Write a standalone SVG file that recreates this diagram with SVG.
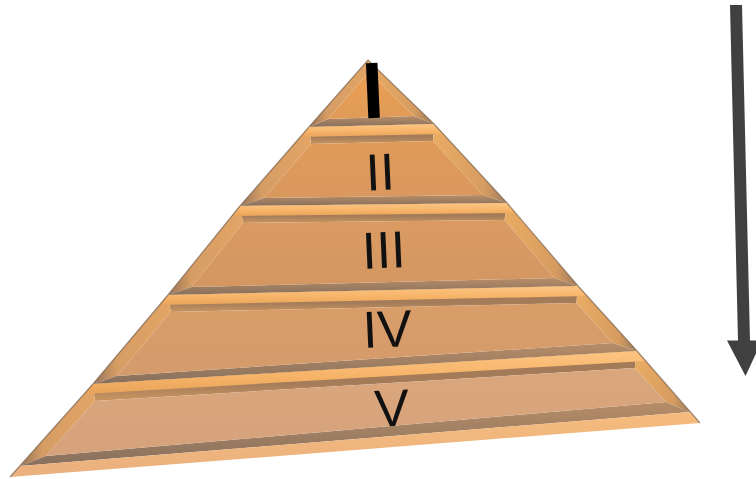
<svg xmlns="http://www.w3.org/2000/svg" width="756" height="479" viewBox="0 0 756 479">
<defs>
<linearGradient id="gLight" x1="0" y1="0" x2="0" y2="1"><stop offset="0" stop-color="#fdc583"/><stop offset="0.6" stop-color="#f6b367"/><stop offset="1" stop-color="#e8a35a"/></linearGradient>
<linearGradient id="gBase" x1="0" y1="0" x2="0" y2="1"><stop offset="0" stop-color="#f6bb7c"/><stop offset="1" stop-color="#eab07e"/></linearGradient>
<linearGradient id="gTop" x1="0" y1="0" x2="0" y2="1"><stop offset="0" stop-color="#a27a58"/><stop offset="0.65" stop-color="#a47c5a"/><stop offset="1" stop-color="#c99660"/></linearGradient>
<linearGradient id="gBottom" x1="0" y1="0" x2="0" y2="1"><stop offset="0" stop-color="#b78d68"/><stop offset="1" stop-color="#87705d"/></linearGradient>
<linearGradient id="gLeft" x1="0" y1="0" x2="1" y2="0"><stop offset="0" stop-color="#94735a"/><stop offset="0.3" stop-color="#d59c64"/><stop offset="1" stop-color="#e3a566"/></linearGradient>
<linearGradient id="gRight" x1="0" y1="0" x2="1" y2="0"><stop offset="0" stop-color="#eaac64"/><stop offset="0.7" stop-color="#d69c60"/><stop offset="1" stop-color="#9c7a5c"/></linearGradient>
<linearGradient id="gFace1" x1="0" y1="0" x2="0" y2="1"><stop offset="0" stop-color="#ea9f52"/><stop offset="1" stop-color="#e09b58"/></linearGradient>
<linearGradient id="gFace2" x1="0" y1="0" x2="0" y2="1"><stop offset="0" stop-color="#e09b5a"/><stop offset="1" stop-color="#d9985e"/></linearGradient>
<linearGradient id="gFace3" x1="0" y1="0" x2="0" y2="1"><stop offset="0" stop-color="#da9a62"/><stop offset="1" stop-color="#d49762"/></linearGradient>
<linearGradient id="gFace4" x1="0" y1="0" x2="0" y2="1"><stop offset="0" stop-color="#d99d68"/><stop offset="1" stop-color="#d49b6c"/></linearGradient>
<linearGradient id="gFace5" x1="0" y1="0" x2="0" y2="1"><stop offset="0" stop-color="#daa67c"/><stop offset="1" stop-color="#d5a27c"/></linearGradient>
</defs>
<style>
.top{fill:url(#gTop)}
.bot{fill:url(#gBottom)}
.lft{fill:url(#gLeft)}
.rgt{fill:url(#gRight)}
.lit{fill:url(#gLight)}
.edge{fill:none;stroke:#7f6550;stroke-width:1.2;stroke-opacity:0.75}
.lbl{font-family:"Liberation Sans",Arial,sans-serif;font-size:52px;fill:#111;text-anchor:middle}
.arrow{fill:#404040}
</style>
<g id="band1">
<polygon class="bot" points="309,127 434,124 414,116 328,119"/>
<polygon class="lft" points="368,60 369,72 328,119 309,127"/>
<polygon class="rgt" points="368,60 434,124 414,116 369,72"/>
<polygon fill="url(#gFace1)" points="369,72 414,116 328,119"/>
<polyline class="edge" points="309,127 368,60 434,124"/>
<text x="374" y="118" font-family="Liberation Sans, Arial, sans-serif" font-weight="bold" font-size="80" fill="#000" text-anchor="middle" transform="rotate(-2.5 374 118)">I</text>
</g>
<g id="band2">
<polygon class="top" points="309,127 434,124 433,141 311,144"/>
<polygon class="lft" points="309,127 311,144 264,198 240,206"/>
<polygon class="rgt" points="434,124 507,203 483,195 433,141"/>
<polygon class="bot" points="240,206 264,198 483,195 507,203"/>
<polygon fill="url(#gFace2)" points="311,144 433,141 483,195 264,198"/>
<polygon class="lit" points="309,127 434,124 443.2,134 300.3,137"/>
<polyline class="edge" points="309,127 240,206"/>
<polyline class="edge" points="434,124 507,203"/>
<text class="lbl" x="381" y="190" transform="rotate(-2.5 381 190)">II</text>
</g>
<g id="band3">
<polygon class="top" points="240,206 507,203 504.5,220 243,223"/>
<polygon class="lft" points="240,206 243,223 191.5,287 168,295"/>
<polygon class="rgt" points="507,203 578,286 554,278 504.5,220"/>
<polygon class="bot" points="168,295 191.5,287 554,278 578,286"/>
<polygon fill="url(#gFace3)" points="243,223 504.5,220 554,278 191.5,287"/>
<polygon class="lit" points="240,206 507,203 515.6,213 231.9,216"/>
<polyline class="edge" points="240,206 168,295"/>
<polyline class="edge" points="507,203 578,286"/>
<text class="lbl" x="384.5" y="268" transform="rotate(-2.5 384.5 268)">III</text>
</g>
<g id="band4">
<polygon class="top" points="168,295 578,286 576.4,303 170.7,312"/>
<polygon class="lft" points="168,295 170.7,312 116.7,376 93,384"/>
<polygon class="rgt" points="578,286 637,351 612.7,343 576.4,303"/>
<polygon class="bot" points="93,384 116.7,376 612.7,343 637,351"/>
<polygon fill="url(#gFace4)" points="170.7,312 576.4,303 612.7,343 116.7,376"/>
<polygon class="lit" points="168,295 578,286 587.1,296 159.6,305"/>
<polyline class="edge" points="168,295 93,384"/>
<polyline class="edge" points="578,286 637,351"/>
<text class="lbl" x="388" y="347" transform="rotate(-2.5 388 347)">IV</text>
</g>
<g id="band5">
<polygon class="top" points="93,384 637,351 634.8,368 94.9,401"/>
<polygon class="lft" points="93,384 94.9,401 45.9,456 20,466"/>
<polygon class="rgt" points="637,351 690,412 666,402 634.8,368"/>
<polygon class="bot" points="20,466 45.9,456 666,402 690,412"/>
<polygon fill="url(#gFace5)" points="94.9,401 634.8,368 666,402 45.9,456"/>
<polygon class="lit" points="93,384 637,351 645.7,361 84.1,394"/>
<polygon fill="url(#gBase)" points="20,466 690,412 700,423 10,477"/>
<polyline class="edge" points="93,384 10,477"/>
<polyline class="edge" points="637,351 700,423"/>
<text class="lbl" x="392.5" y="426" transform="rotate(-2.5 392.5 426)">V</text>
</g>
<g id="connectors">
<polygon class="arrow" points="730,5 742,5 750,340.5 762,340.5 745.5,376 727,340.5 738,340.5"/>
</g>
</svg>
